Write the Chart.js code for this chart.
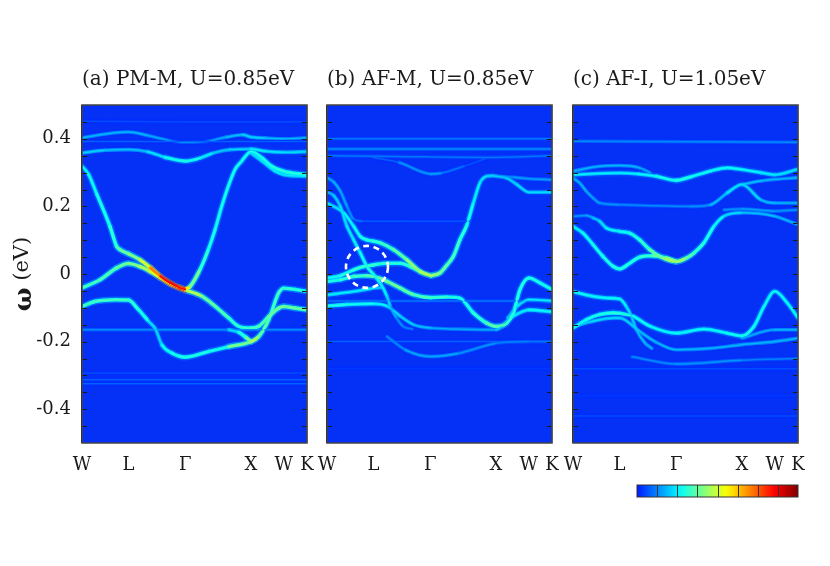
<!DOCTYPE html>
<html>
<head>
<meta charset="utf-8">
<title>Spectral functions</title>
<script src="https://cdn.jsdelivr.net/npm/chart.js@4.4.1/dist/chart.umd.min.js"></script>
<style>
  body { margin: 0; background: #fff; }
  #wrap { position: relative; width: 830px; height: 566px; overflow: hidden; }
  .panel { position: absolute; top: 0; height: 566px; }
</style>
</head>
<body>
<div id="wrap">
  <div class="panel" style="left:0;width:329px"><canvas id="panelA"></canvas></div>
  <div class="panel" style="left:305px;width:269px"><canvas id="panelB"></canvas></div>
  <div class="panel" style="left:551px;width:269px"><canvas id="panelC"></canvas></div>
</div>
<script>
// path W-L-G-X-W-K (units of 2pi/a)
var kPoints = [0, 0.707, 1.573, 2.573, 3.073, 3.427];
var kLabels = ["W", "L", "Γ", "X", "W", "K"];
var yTicks = [-0.45, -0.4, -0.35, -0.3, -0.25, -0.2, -0.15, -0.1, -0.05, 0,
              0.05, 0.1, 0.15, 0.2, 0.25, 0.3, 0.35, 0.4, 0.45];
var titles = ["(a) PM-M, U=0.85eV", "(b) AF-M, U=0.85eV", "(c) AF-I, U=1.05eV"];
var circleB = [0.609, 0.021];   // marked crossing in panel b
var colorSteps = 8;

// bands: [k, omega, intensity 0..1]
var bandsPM = [
  [[0,0.452,0.2],[1.573,0.45,0.2],[3.427,0.45,0.2]],
  [[0,0.392,0.22],[3.427,0.392,0.22]],
  [[0,0.403,0.3],[0.5,0.418,0.3],[0.707,0.42,0.3],[1.0,0.41,0.3],[1.3,0.396,0.28],[1.573,0.39,0.28],[1.9,0.392,0.28],[2.2,0.405,0.3],[2.45,0.412,0.32],[2.573,0.405,0.34],[2.8,0.402,0.32],[3.073,0.4,0.3],[3.427,0.403,0.3]],
  [[0,0.358,0.34],[0.35,0.366,0.32],[0.707,0.368,0.3],[1.0,0.362,0.32],[1.27,0.345,0.38],[1.573,0.334,0.42],[1.8,0.343,0.38],[2.0,0.358,0.34],[2.25,0.368,0.3],[2.573,0.37,0.36],[2.8,0.363,0.36],[3.073,0.36,0.34],[3.427,0.362,0.34]],
  [[0,0.319,0.36],[0.1,0.295,0.38],[0.228,0.235,0.4],[0.426,0.141,0.42],[0.527,0.082,0.45],[0.58,0.072,0.48],[0.707,0.06,0.5],[0.883,0.042,0.52],[1.036,0.019,0.66],[1.188,-0.007,0.86],[1.34,-0.027,0.9],[1.49,-0.041,0.9],[1.573,-0.046,0.85]],
  [[0,-0.041,0.45],[0.274,-0.017,0.45],[0.527,0.018,0.48],[0.707,0.031,0.5],[0.883,0.022,0.52],[1.036,0.008,0.58],[1.188,-0.01,0.62],[1.34,-0.029,0.62],[1.573,-0.047,0.62],[1.828,-0.066,0.5],[2.031,-0.096,0.48],[2.234,-0.13,0.45],[2.386,-0.155,0.42],[2.573,-0.16,0.45],[2.691,-0.155,0.45],[2.843,-0.126,0.48],[2.995,-0.101,0.5],[3.073,-0.096,0.5],[3.25,-0.101,0.48],[3.427,-0.106,0.48]],
  [[1.573,-0.046,0.75],[1.646,-0.037,0.55],[1.797,0.013,0.45],[1.924,0.072,0.42],[2.026,0.131,0.4],[2.128,0.2,0.4],[2.229,0.26,0.4],[2.33,0.309,0.4],[2.432,0.334,0.4],[2.533,0.358,0.4],[2.573,0.363,0.4],[2.74,0.344,0.4],[2.89,0.319,0.42],[3.073,0.304,0.42],[3.427,0.294,0.42]],
  [[2.573,0.358,0.35],[2.74,0.334,0.35],[2.94,0.304,0.36],[3.073,0.294,0.36],[3.427,0.289,0.36]],
  [[0,-0.096,0.45],[0.203,-0.081,0.45],[0.508,-0.076,0.45],[0.707,-0.077,0.45],[0.863,-0.106,0.42],[1.015,-0.14,0.4],[1.117,-0.162,0.3],[1.218,-0.21,0.38],[1.371,-0.234,0.4],[1.573,-0.246,0.42],[1.929,-0.229,0.4],[2.234,-0.215,0.4],[2.573,-0.2,0.6],[2.691,-0.185,0.5],[2.843,-0.135,0.45],[2.995,-0.056,0.45],[3.073,-0.042,0.45],[3.249,-0.046,0.42],[3.427,-0.051,0.42]],
  [[2.234,-0.165,0.3],[2.386,-0.172,0.4],[2.5,-0.188,0.45],[2.573,-0.2,0.55]],
  [[0,-0.165,0.26],[3.427,-0.165,0.26]],
  [[0,-0.293,0.2],[3.427,-0.293,0.2]],
  [[0,-0.313,0.22],[3.427,-0.313,0.22]],
  [[0,-0.325,0.22],[3.427,-0.325,0.22]]
];

var bandsAFM = [
  [[0,0.40,0.24],[3.427,0.40,0.24]],
  [[0,0.37,0.26],[3.427,0.37,0.26]],
  [[0,0.35,0.24],[1.0,0.348,0.24],[2.4,0.345,0.24],[3.427,0.35,0.24]],
  [[0.7,0.345,0.2],[1.1,0.33,0.24],[1.584,0.296,0.3],[1.75,0.299,0.26],[2.1,0.32,0.22],[2.4,0.34,0.2]],
  [[1.584,-0.005,0.56],[1.72,0.003,0.5],[1.828,0.027,0.48],[1.924,0.052,0.46],[2.026,0.102,0.44],[2.128,0.144,0.42],[2.229,0.21,0.38],[2.33,0.27,0.36],[2.43,0.289,0.34],[2.53,0.291,0.33],[2.579,0.289,0.32],[2.737,0.284,0.32],[2.89,0.265,0.34],[3.077,0.242,0.34],[3.427,0.242,0.34]],
  [[2.579,0.29,0.26],[2.85,0.286,0.28],[3.077,0.282,0.28],[3.427,0.279,0.28]],
  [[0,0.243,0.3],[0.102,0.232,0.32],[0.203,0.2,0.34],[0.305,0.141,0.36],[0.406,0.101,0.36],[0.508,0.062,0.38],[0.609,0.022,0.4],[0.711,-0.002,0.4],[0.812,-0.027,0.38],[0.914,-0.066,0.36],[0.965,-0.096,0.32],[1.06,-0.13,0.28],[1.158,-0.155,0.26],[1.3,-0.163,0.24]],
  [[0,0.21,0.34],[0.254,0.181,0.36],[0.406,0.141,0.38],[0.508,0.111,0.4],[0.609,0.101,0.42],[0.711,0.097,0.42],[0.812,0.092,0.44],[1.015,0.072,0.46],[1.218,0.042,0.5],[1.422,0.007,0.55],[1.584,-0.005,0.56]],
  [[0,0.285,0.28],[0.102,0.272,0.3],[0.203,0.245,0.3],[0.305,0.2,0.28],[0.406,0.162,0.26],[0.55,0.156,0.22],[1.2,0.156,0.21],[2.2,0.156,0.21]],
  [[0,-0.012,0.38],[0.203,-0.005,0.4],[0.406,0.012,0.42],[0.558,0.022,0.44],[0.711,0.027,0.44],[0.914,0.032,0.42],[1.117,0.032,0.42],[1.27,0.022,0.44],[1.422,0.007,0.5]],
  [[0,-0.022,0.4],[0.203,-0.017,0.42],[0.406,-0.007,0.44],[0.609,-0.005,0.46],[0.711,-0.007,0.48],[0.914,-0.022,0.5],[1.117,-0.042,0.5],[1.32,-0.061,0.46],[1.584,-0.07,0.45],[1.828,-0.068,0.42],[2.021,-0.071,0.4],[2.229,-0.115,0.42],[2.43,-0.145,0.45],[2.579,-0.155,0.5],[2.737,-0.145,0.45],[2.84,-0.115,0.42],[2.94,-0.046,0.42],[3.077,-0.012,0.42],[3.25,-0.027,0.4],[3.427,-0.046,0.4]],
  [[0,-0.062,0.36],[0.406,-0.052,0.36],[0.711,-0.042,0.36],[0.85,-0.04,0.3]],
  [[0,-0.095,0.4],[0.305,-0.09,0.4],[0.711,-0.088,0.38],[0.914,-0.095,0.36],[1.117,-0.125,0.34],[1.32,-0.15,0.32],[1.584,-0.16,0.3],[2.0,-0.163,0.28],[2.579,-0.165,0.3],[2.8,-0.13,0.34],[3.077,-0.106,0.38],[3.427,-0.112,0.38]],
  [[2.75,-0.13,0.3],[2.9,-0.095,0.34],[3.077,-0.076,0.36],[3.427,-0.08,0.36]],
  [[0.914,-0.185,0.24],[1.2,-0.225,0.28],[1.584,-0.244,0.3],[2.0,-0.235,0.28],[2.579,-0.205,0.26],[3.077,-0.2,0.24],[3.427,-0.2,0.24]],
  [[0,-0.08,0.24],[3.427,-0.08,0.24]],
  [[0,-0.2,0.22],[3.427,-0.2,0.22]],
  [[0,-0.28,0.18],[3.427,-0.28,0.18]]
];

var bandsAFI = [
  [[0,0.393,0.26],[3.427,0.39,0.26]],
  [[0,0.294,0.36],[0.711,0.299,0.36],[1.0,0.296,0.36],[1.27,0.289,0.38],[1.573,0.277,0.42],[1.8,0.288,0.4],[2.1,0.305,0.38],[2.349,0.314,0.38],[2.573,0.309,0.38],[2.858,0.3,0.36],[3.073,0.294,0.36],[3.427,0.31,0.34]],
  [[0,0.304,0.3],[0.406,0.319,0.3],[0.711,0.321,0.3],[1.015,0.314,0.3],[1.17,0.3,0.28]],
  [[0,0.284,0.3],[0.102,0.269,0.3],[0.203,0.245,0.3],[0.305,0.225,0.28],[0.406,0.21,0.28],[0.711,0.205,0.26],[1.2,0.202,0.26],[1.8,0.2,0.26],[2.095,0.205,0.28],[2.349,0.24,0.34],[2.573,0.265,0.36],[2.858,0.22,0.32],[3.073,0.21,0.3],[3.427,0.21,0.3]],
  [[2.573,0.265,0.32],[2.858,0.275,0.3],[3.073,0.28,0.3],[3.427,0.285,0.3]],
  [[0,0.141,0.36],[0.152,0.121,0.38],[0.305,0.087,0.4],[0.457,0.052,0.4],[0.609,0.023,0.42],[0.711,0.015,0.42],[0.863,0.032,0.42],[1.015,0.05,0.42],[1.218,0.054,0.45],[1.422,0.047,0.5],[1.573,0.037,0.55]],
  [[0,0.171,0.26],[0.203,0.173,0.28],[0.305,0.166,0.3],[0.406,0.156,0.34],[0.508,0.136,0.36],[0.711,0.126,0.38],[0.863,0.121,0.4],[1.015,0.101,0.42],[1.168,0.072,0.45],[1.32,0.052,0.52],[1.573,0.037,0.58],[1.726,0.047,0.5],[1.841,0.062,0.45],[1.993,0.092,0.42],[2.146,0.141,0.4],[2.298,0.171,0.36],[2.573,0.181,0.32],[3.073,0.171,0.3],[3.427,0.146,0.3]],
  [[2.3,0.19,0.26],[2.573,0.192,0.28],[3.073,0.186,0.28],[3.427,0.19,0.26]],
  [[0,-0.052,0.38],[0.203,-0.062,0.38],[0.508,-0.071,0.38],[0.711,-0.074,0.38],[0.812,-0.096,0.36],[0.889,-0.125,0.34],[0.965,-0.165,0.32],[1.1,-0.205,0.3],[1.2,-0.22,0.3]],
  [[0,-0.16,0.38],[0.203,-0.135,0.4],[0.406,-0.12,0.4],[0.609,-0.115,0.42],[0.711,-0.116,0.42],[0.914,-0.125,0.4],[1.18,-0.155,0.38],[1.573,-0.175,0.38],[1.993,-0.163,0.38],[2.349,-0.175,0.38],[2.573,-0.183,0.4],[2.756,-0.155,0.4],[2.909,-0.096,0.38],[3.073,-0.051,0.38],[3.265,-0.086,0.38],[3.427,-0.13,0.38]],
  [[0,-0.155,0.32],[0.305,-0.14,0.34],[0.609,-0.13,0.34],[0.711,-0.13,0.34],[1.015,-0.17,0.32],[1.25,-0.2,0.3],[1.573,-0.224,0.3],[2.1,-0.22,0.3],[2.573,-0.209,0.3],[3.073,-0.2,0.3],[3.427,-0.19,0.3]],
  [[0.9,-0.245,0.24],[1.573,-0.266,0.28],[2.573,-0.255,0.26],[3.427,-0.25,0.24]],
  [[2.573,-0.19,0.28],[3.073,-0.165,0.3],[3.427,-0.165,0.3]],
  [[0,-0.28,0.2],[3.427,-0.28,0.2]],
  [[0,-0.36,0.18],[3.427,-0.36,0.18]],
  [[0,-0.42,0.2],[3.427,-0.42,0.2]]
];

var bg = [5, 48, 245];
var serif = '"DejaVu Serif", serif';

// jet colour map
function jet(v) {
  v = Math.max(0, Math.min(1, v));
  function c(x) { return Math.max(0, Math.min(1, x)); }
  return [c(1.5 - Math.abs(4 * v - 3)), c(1.5 - Math.abs(4 * v - 2)), c(1.5 - Math.abs(4 * v - 1))];
}
function shade(v, mix) {
  var j = jet(v);
  var r = Math.round(j[0] * 255 * mix + bg[0] * (1 - mix));
  var g = Math.round(j[1] * 255 * mix + bg[1] * (1 - mix));
  var b = Math.round(j[2] * 255 * mix + bg[2] * (1 - mix));
  return 'rgb(' + r + ',' + g + ',' + b + ')';
}

// three stacked strokes per band: soft halo, glow, core
function bandSets(bands) {
  var layers = [
    { width: 6.5, shift: 0.14, mix: 0.45, order: 3 },
    { width: 3.6, shift: 0.05, mix: 1, order: 2 },
    { width: 1.5, shift: 0, mix: 1, order: 1 }
  ];
  var sets = [];
  layers.forEach(function (ly) {
    bands.forEach(function (band) {
      var tone = function (i) { return shade(Math.max(0.17, i - ly.shift), ly.mix); };
      sets.push({
        data: band.map(function (p) { return { x: p[0], y: p[1] }; }),
        borderWidth: ly.width,
        borderColor: tone(band[0][2]),
        segment: {
          borderColor: function (c) {
            return tone((band[c.p0DataIndex][2] + band[c.p1DataIndex][2]) / 2);
          }
        },
        borderCapStyle: 'round',
        borderJoinStyle: 'round',
        pointRadius: 0,
        cubicInterpolationMode: 'monotone',
        clip: 0,
        order: ly.order
      });
    });
  });
  return sets;
}

var framePlugin = {
  id: 'frame',
  beforeDatasetsDraw: function (chart) {
    var a = chart.chartArea, ctx = chart.ctx;
    ctx.save();
    ctx.fillStyle = 'rgb(' + bg.join(',') + ')';
    ctx.fillRect(a.left, a.top, a.right - a.left, a.bottom - a.top);
    ctx.restore();
  },
  afterDraw: function (chart) {
    var a = chart.chartArea, ctx = chart.ctx, ys = chart.scales.y;
    ctx.save();
    ctx.strokeStyle = '#1a1a1a';
    ctx.lineWidth = 1;
    yTicks.forEach(function (v) {
      var py = Math.round(ys.getPixelForValue(v)) + 0.5;
      ctx.beginPath();
      ctx.moveTo(a.left, py); ctx.lineTo(a.left + 5, py);
      ctx.moveTo(a.right, py); ctx.lineTo(a.right - 5, py);
      ctx.stroke();
    });
    ctx.strokeStyle = '#444';
    ctx.lineWidth = 1.5;
    ctx.strokeRect(a.left, a.top, a.right - a.left, a.bottom - a.top);
    ctx.restore();
  }
};

var omegaPlugin = {
  id: 'omega',
  afterDraw: function (chart) {
    var a = chart.chartArea, ctx = chart.ctx;
    ctx.save();
    ctx.translate(23, (a.top + a.bottom) / 2);
    ctx.rotate(-Math.PI / 2);
    ctx.fillStyle = '#1a1a1a';
    ctx.textBaseline = 'middle';
    ctx.textAlign = 'left';
    ctx.font = 'bold 25px ' + serif;
    var w1 = ctx.measureText('ω').width;
    ctx.font = '21px ' + serif;
    var w2 = ctx.measureText(' (eV)').width;
    var x0 = -(w1 + w2) / 2;
    ctx.font = 'bold 25px ' + serif;
    ctx.fillText('ω', x0, 1);
    ctx.font = '21px ' + serif;
    ctx.fillText(' (eV)', x0 + w1, 0);
    ctx.restore();
  }
};

var circlePlugin = {
  id: 'circle',
  afterDatasetsDraw: function (chart) {
    var ctx = chart.ctx;
    var cx = chart.scales.x.getPixelForValue(circleB[0]);
    var cy = chart.scales.y.getPixelForValue(circleB[1]);
    ctx.save();
    ctx.strokeStyle = '#fff';
    ctx.lineWidth = 2.6;
    ctx.setLineDash([6, 4.5]);
    ctx.beginPath();
    ctx.arc(cx, cy, 21, 0, Math.PI * 2);
    ctx.stroke();
    ctx.restore();
  }
};

var colorBarPlugin = {
  id: 'colorbar',
  afterDraw: function (chart) {
    var a = chart.chartArea, ctx = chart.ctx;
    var w = 161, h = 12, x0 = a.right - w, y0 = a.bottom + 42;
    var grad = ctx.createLinearGradient(x0, 0, x0 + w, 0);
    for (var i = 0; i <= 20; i++) {
      var t = i / 20;
      grad.addColorStop(t, shade(0.15 + 0.85 * t, 1));
    }
    ctx.save();
    ctx.fillStyle = grad;
    ctx.fillRect(x0, y0, w, h);
    ctx.strokeStyle = '#333';
    ctx.lineWidth = 1;
    for (var s = 1; s < colorSteps; s++) {
      var px = Math.round(x0 + s * w / colorSteps) + 0.5;
      ctx.beginPath(); ctx.moveTo(px, y0); ctx.lineTo(px, y0 + h); ctx.stroke();
    }
    ctx.strokeRect(x0, y0, w, h);
    ctx.restore();
  }
};

function makePanel(id, bands, title, showY, pad, extra) {
  return new Chart(id, {
    type: 'line',
    data: { datasets: bandSets(bands) },
    plugins: [framePlugin].concat(extra),
    options: {
      responsive: true,
      maintainAspectRatio: false,
      animation: false,
      events: [],
      layout: { padding: { left: pad[0], right: pad[1], top: 0, bottom: 93 } },
      plugins: {
        legend: { display: false },
        tooltip: { enabled: false },
        title: {
          display: true,
          text: title,
          align: 'start',
          fullSize: false,
          color: '#1a1a1a',
          font: { family: serif, size: 20, weight: 'normal' },
          padding: { top: 68, bottom: 13 }
        }
      },
      scales: {
        x: {
          type: 'linear',
          min: 0,
          max: 3.427,
          z: 1,
          afterBuildTicks: function (s) { s.ticks = kPoints.map(function (v) { return { value: v }; }); },
          afterFit: function (s) { s.height = 30; },
          ticks: {
            autoSkip: false,
            maxRotation: 0,
            padding: 12,
            color: '#1a1a1a',
            font: { family: serif, size: 18 },
            callback: function (v, i) { return kLabels[i]; }
          },
          grid: { color: '#000', lineWidth: 1.3, drawTicks: false },
          border: { display: false }
        },
        y: {
          type: 'linear',
          min: -0.5,
          max: 0.5,
          afterBuildTicks: function (s) { s.ticks = yTicks.map(function (v) { return { value: v }; }); },
          afterFit: function (s) { s.width = showY ? 82 : 0; },
          ticks: {
            display: showY,
            autoSkip: false,
            padding: 11,
            color: '#1a1a1a',
            font: { family: serif, size: 18 },
            callback: function (v) {
              if (Math.abs(v * 5 - Math.round(v * 5)) > 1e-6) return '';
              return Math.abs(v) < 1e-9 ? '0' : v.toFixed(1);
            }
          },
          grid: { display: false, drawTicks: false },
          border: { display: false }
        }
      }
    }
  });
}

makePanel('panelA', bandsPM, titles[0], true, [0, 22], [omegaPlugin]);
makePanel('panelB', bandsAFM, titles[1], false, [22, 22], [circlePlugin]);
makePanel('panelC', bandsAFI, titles[2], false, [22, 22], [colorBarPlugin]);
</script>
</body>
</html>
